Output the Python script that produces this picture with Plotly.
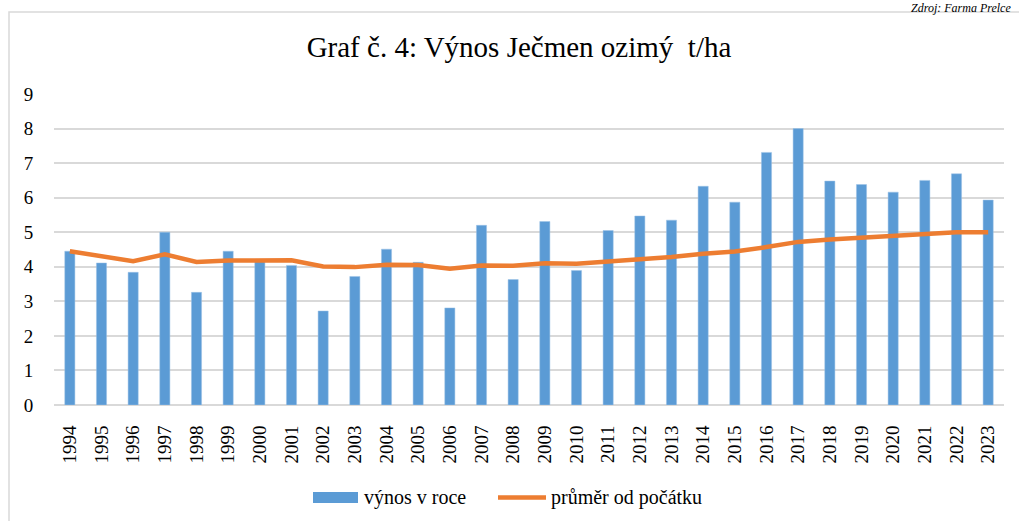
import plotly.graph_objects as go

years = [str(y) for y in range(1994, 2024)]
vynos = [4.45, 4.11, 3.84, 5.00, 3.26, 4.45, 4.20, 4.04, 2.72, 3.72,
         4.51, 4.13, 2.81, 5.20, 3.63, 5.31, 3.89, 5.05, 5.47, 5.35,
         6.33, 5.87, 7.31, 8.00, 6.48, 6.38, 6.16, 6.50, 6.69, 5.93]
prumer = [4.45, 4.30, 4.16, 4.36, 4.14, 4.18, 4.19, 4.19, 4.01, 3.99,
          4.06, 4.05, 3.94, 4.04, 4.03, 4.10, 4.09, 4.15, 4.21, 4.28,
          4.38, 4.44, 4.57, 4.72, 4.79, 4.84, 4.89, 4.94, 5.00, 5.00]
y_ticks = list(range(0, 10))

NB = "\u00a0"
title_text = f"Graf č. 4: Výnos Ječmen ozimý{NB} t/ha"
name_bar = "výnos v roce"
name_line = "průměr od počátku"
source_text = "Zdroj: Farma Prelce"

W, H = 1019, 521
ML, MR, MT, MB = 54, 15, 94, 116
PW, PH = W - ML - MR, H - MT - MB

def px(x):
    return (x - ML) / PW

def py(y):
    return (H - MB - y) / PH

BLUE = "#5B9BD5"
ORANGE = "#ED7D31"
GRID = "#D9D9D9"
FONT = "Liberation Serif"

fig = go.Figure()
fig.add_trace(go.Bar(x=years, y=vynos, name=name_bar,
                     marker=dict(color=BLUE, line=dict(color="#9DC3E6", width=0.5))))
fig.add_trace(go.Scatter(x=years, y=prumer, name=name_line, mode="lines",
                         line=dict(color=ORANGE, width=4.5)))

shapes = [
    dict(type="rect", xref="paper", yref="paper", x0=px(9), x1=px(1030), y0=py(540), y1=py(12),
         line=dict(color=GRID, width=1.5), fillcolor="rgba(0,0,0,0)", layer="below"),
    dict(type="rect", xref="paper", yref="paper", x0=px(313), x1=px(358), y0=py(503), y1=py(492),
         line=dict(width=0), fillcolor=BLUE),
    dict(type="line", xref="paper", yref="paper", x0=px(498), x1=px(546), y0=py(497.5), y1=py(497.5),
         line=dict(color=ORANGE, width=4.5)),
]

annotations = [
    dict(text=name_bar, xref="paper", yref="paper", x=px(362), y=py(497), xanchor="left", yanchor="middle",
         showarrow=False, font=dict(family=FONT, size=20, color="#000")),
    dict(text=name_line, xref="paper", yref="paper", x=px(549), y=py(497), xanchor="left", yanchor="middle",
         showarrow=False, font=dict(family=FONT, size=20, color="#000")),
    dict(text="<i>" + source_text + "</i>", xref="paper", yref="paper", x=px(1012), y=py(0),
         xanchor="right", yanchor="top", showarrow=False, borderpad=0,
         font=dict(family=FONT, size=12, color="#000")),
]

fig.update_layout(
    width=W, height=H,
    margin=dict(l=ML, r=MR, t=MT, b=MB),
    paper_bgcolor="white", plot_bgcolor="white",
    title=dict(text=title_text, x=519 / W, xanchor="center", y=1 - 47 / H, yanchor="middle",
               font=dict(family=FONT, size=29, color="#000")),
    showlegend=False,
    bargap=0.68,
    shapes=shapes,
    annotations=annotations,
    font=dict(family=FONT, size=19, color="#000"),
)
fig.update_xaxes(type="category", tickangle=-90, showgrid=False, showline=False,
                 ticks="outside", ticklen=12, tickcolor="rgba(0,0,0,0)",
                 tickfont=dict(family=FONT, size=19, color="#000"))
fig.update_yaxes(range=[0, 9], tickvals=y_ticks, showgrid=True, gridcolor=GRID, gridwidth=1.5,
                 zeroline=True, zerolinecolor=GRID, zerolinewidth=1.5, showline=False,
                 ticks="outside", ticklen=16, tickcolor="rgba(0,0,0,0)",
                 tickfont=dict(family=FONT, size=19, color="#000"))

fig.write_html("out.html", config={"displayModeBar": False},
               post_script="document.body.style.margin='0';document.body.style.overflow='hidden';")
